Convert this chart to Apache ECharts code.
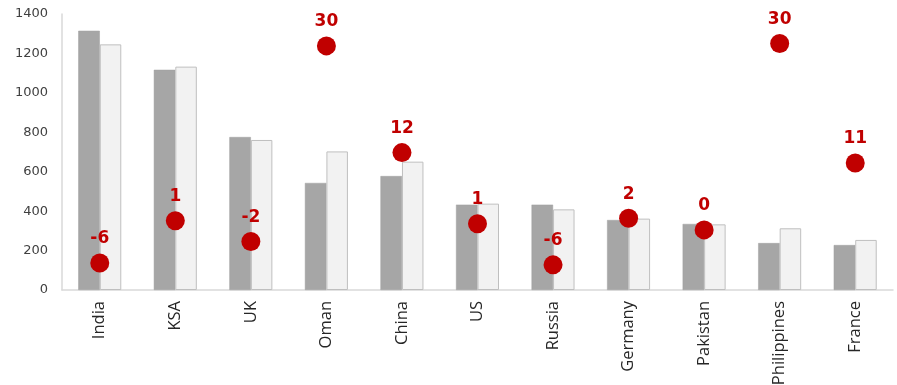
<!DOCTYPE html>
<html>
<head>
<meta charset="utf-8">
<script src="https://cdn.jsdelivr.net/npm/echarts@6/dist/echarts.min.js"></script>
<style>
html,body{margin:0;padding:0;background:#fff;}
#c{width:897px;height:385px;}
</style>
</head>
<body>
<div id="c"></div>
<script>
const categories = ['India','KSA','UK','Oman','China','US','Russia','Germany','Pakistan','Philippines','France'];
const seriesA = [1315,1117,776,543,578,433,433,355,335,238,228];
const seriesB = [1246,1133,761,703,651,438,409,362,333,313,254];
const changePct = [-5.6,1.3,-2.1,29.8,12.4,0.8,-5.9,1.7,-0.2,30.2,10.7];
const yTicks = [0,200,400,600,800,1000,1200,1400];

const chart = echarts.init(document.getElementById('c'), null, {renderer:'canvas'});
chart.setOption({
  animation:false,
  backgroundColor:'#ffffff',
  grid:{left:62,right:4,top:14,bottom:95,containLabel:false,outerBoundsMode:'none'},
  xAxis:{
    type:'category',
    data:categories,
    axisLine:{show:true,lineStyle:{color:'#d9d9d9',width:1.5}},
    axisTick:{show:false},
    axisLabel:{rotate:90,margin:11,color:'#262626',fontFamily:'Open Sans',fontSize:16.5,interval:0}
  },
  yAxis:[{
    type:'value',
    min:yTicks[0],max:yTicks[yTicks.length-1],interval:yTicks[1]-yTicks[0],
    axisLine:{show:true,lineStyle:{color:'#d9d9d9',width:1.5}},
    axisTick:{show:false},
    splitLine:{show:false},
    axisLabel:{color:'#404040',fontFamily:'DejaVu Sans',fontSize:13,margin:14,formatter:v=>String(v)}
  },{
    type:'value',min:-10,max:35,show:false,splitLine:{show:false}
  }],
  series:[{
    type:'bar',
    data:seriesA,
    barWidth:21.5,
    barGap:'0%',
    itemStyle:{color:'#a6a6a6',borderColor:'#a0a0a0',borderWidth:0.5}
  },{
    type:'bar',
    data:seriesB,
    barWidth:21.5,
    barGap:'0%',
    itemStyle:{color:'#f2f2f2',borderColor:'#bfbfbf',borderWidth:1}
  },{
    type:'scatter',
    yAxisIndex:1,
    data:changePct,
    symbol:'circle',
    symbolSize:19,
    itemStyle:{color:'#c00000',opacity:1},
    z:5,
    label:{
      show:true,position:'top',distance:6,
      color:'#c00000',fontFamily:'DejaVu Sans',fontWeight:'bold',fontSize:17,
      formatter:p=>String(Math.round(p.value))
    }
  }]
});
</script>
</body>
</html>
